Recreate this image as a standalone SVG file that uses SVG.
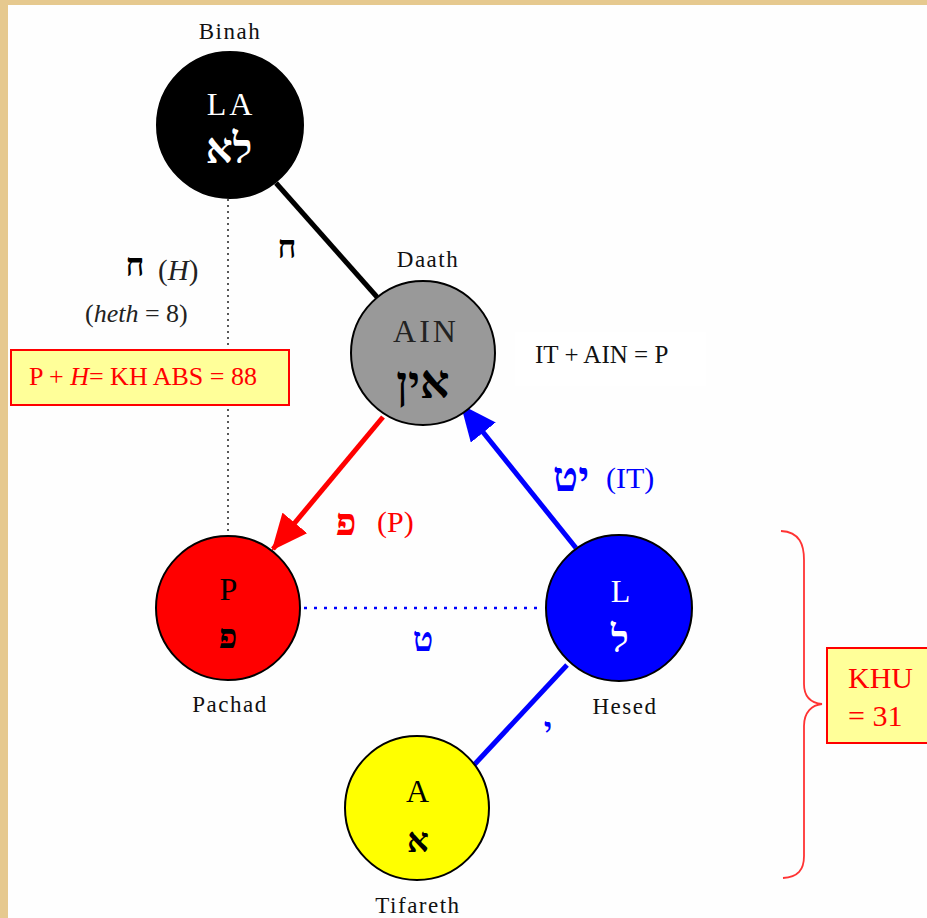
<svg xmlns="http://www.w3.org/2000/svg" width="927" height="918" viewBox="0 0 927 918">
<style>
.lbl{font-family:"Liberation Serif","DejaVu Serif",serif;font-size:23px;fill:#111;text-anchor:middle;letter-spacing:1.5px}
.let{font-family:"Liberation Serif","DejaVu Serif",serif;font-size:32px;text-anchor:middle;letter-spacing:3px}
.heb{font-family:"Liberation Serif","DejaVu Serif",serif;font-weight:bold;text-anchor:middle}
.ser{font-family:"Liberation Serif","DejaVu Serif",serif}
.node{stroke:#000;stroke-width:2}
</style>
<defs>
<marker id="arrR" markerUnits="userSpaceOnUse" markerWidth="36" markerHeight="32" viewBox="0 0 36 32" refX="34" refY="16" orient="auto">
<path d="M0,0 L36,16 L0,32 z" fill="#ff0000"/>
</marker>
<marker id="arrB" markerUnits="userSpaceOnUse" markerWidth="36" markerHeight="32" viewBox="0 0 36 32" refX="34" refY="16" orient="auto">
<path d="M0,0 L36,16 L0,32 z" fill="#0000ff"/>
</marker>
</defs>
<rect x="0" y="0" width="927" height="918" fill="#e6c98f"/>
<rect x="8" y="5" width="919" height="913" fill="#fefefe"/>

<g id="connectors">
<line x1="228" y1="199" x2="228" y2="535" stroke="#222" stroke-width="1.5" stroke-dasharray="2 4"/>
<line x1="276" y1="183" x2="377" y2="297" stroke="#000" stroke-width="5"/>
<line x1="383" y1="417" x2="273" y2="549" stroke="#ff0000" stroke-width="5" marker-end="url(#arrR)"/>
<line x1="576" y1="548" x2="462" y2="406" stroke="#0000ff" stroke-width="5" marker-end="url(#arrB)"/>
<line x1="304" y1="608" x2="543" y2="608" stroke="#0000ff" stroke-width="2.5" stroke-dasharray="3 7"/>
<line x1="567" y1="665" x2="474" y2="765" stroke="#0000ff" stroke-width="5"/>
</g>

<g id="binah">
<text class="lbl" x="230" y="39">Binah</text>
<circle class="node" cx="230" cy="125" r="73" fill="#000"/>
<text class="let" x="231" y="115" fill="#fff" font-size="30">LA</text>
<text class="heb" x="229" y="163" font-size="42" fill="#fff">לא</text>
</g>

<g id="daath">
<text class="lbl" x="428" y="267">Daath</text>
<circle class="node" cx="423" cy="353" r="72" fill="#999999"/>
<text class="let" x="426" y="342" fill="#222">AIN</text>
<text class="heb" x="423" y="398" font-size="46" fill="#000">אין</text>
</g>

<g id="pachad">
<circle class="node" cx="228" cy="608" r="72" fill="#ff0000"/>
<text class="let" x="230" y="600" fill="#000">P</text>
<text class="heb" x="228" y="648" font-size="34" fill="#000">פ</text>
<text class="lbl" x="230" y="712">Pachad</text>
</g>

<g id="hesed">
<circle class="node" cx="619" cy="608" r="73" fill="#0000ff"/>
<text class="let" x="622" y="602" fill="#fff">L</text>
<text class="heb" x="620" y="652" font-size="38" fill="#fff">ל</text>
<text class="lbl" x="625" y="714">Hesed</text>
</g>

<g id="tifareth">
<circle class="node" cx="417" cy="808" r="72" fill="#ffff00"/>
<text class="let" x="419" y="802" fill="#000">A</text>
<text class="heb" x="418" y="852" font-size="34" fill="#000">א</text>
<text class="lbl" x="418" y="913">Tifareth</text>
</g>

<g id="labels">
<text class="heb" x="287" y="258" font-size="32" fill="#000">ח</text>
<text class="heb" x="135" y="276" font-size="32" fill="#000">ח</text>
<text class="ser" x="158" y="280" font-size="29" fill="#222">(<tspan font-style="italic">H</tspan>)</text>
<text class="ser" x="85" y="322" font-size="26" fill="#222">(<tspan font-style="italic">heth</tspan> = 8)</text>
<text class="heb" x="346" y="535" font-size="38" fill="#ff0000">פ</text>
<text class="ser" x="377" y="532" font-size="30" fill="#ff0000">(P)</text>
<text class="heb" x="571" y="491" font-size="42" fill="#0000ff">יט</text>
<text class="ser" x="606" y="488" font-size="30" fill="#0000ff">(IT)</text>
<text class="heb" x="423" y="651" font-size="34" fill="#0000ff">ט</text>
<text class="heb" x="548" y="740" font-size="32" fill="#0000ff">י</text>
</g>

<g id="box-ph">
<rect x="11" y="350" width="278" height="55" fill="#ffff99" stroke="#ff0000" stroke-width="2"/>
<text class="ser" x="29" y="385" font-size="26" fill="#ff0000">P + <tspan font-style="italic">H</tspan>= KH ABS = 88</text>
</g>

<g id="equation">
<rect x="515" y="332" width="191" height="54" fill="#ffffff"/>
<text class="ser" x="535" y="363" font-size="25" fill="#111">IT + AIN = P</text>
</g>

<g id="brace">
<path d="M781,531 C800,532 804,545 804,560 L804,684 C804,698 812,703 822,704 C812,705 804,712 804,726 L804,856 C804,870 798,877 783,878" fill="none" stroke="#ff3333" stroke-width="1.8"/>
</g>

<g id="box-khu">
<rect x="827" y="648" width="102" height="95" fill="#ffff99" stroke="#ff0000" stroke-width="2"/>
<text class="ser" x="848" y="688" font-size="30" fill="#ff0000">KHU</text>
<text class="ser" x="848" y="726" font-size="30" fill="#ff0000">= 31</text>
</g>
</svg>
